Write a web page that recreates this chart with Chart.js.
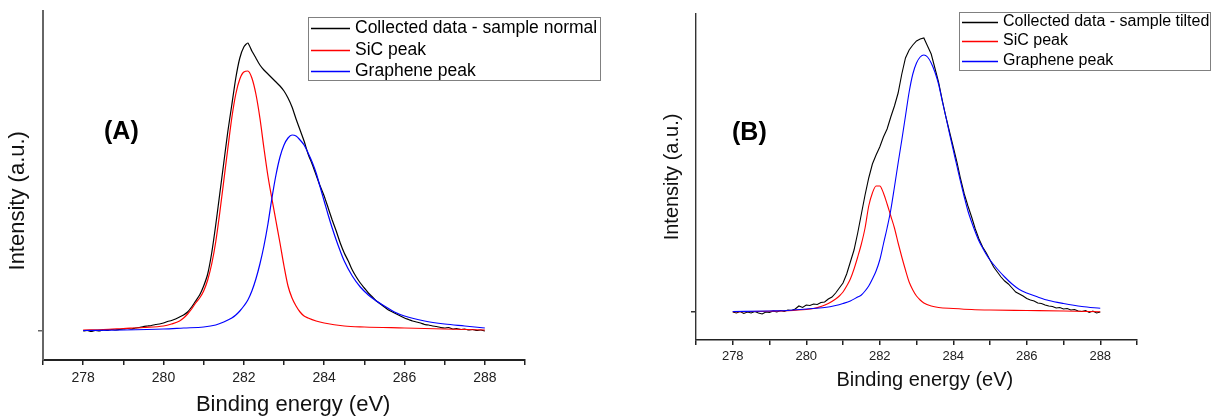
<!DOCTYPE html>
<html><head><meta charset="utf-8">
<script src="https://cdn.jsdelivr.net/npm/chart.js@4.4.1/dist/chart.umd.min.js"></script>
<style>
html,body{margin:0;padding:0;background:#fff;width:1216px;height:418px;overflow:hidden}
#wa{position:absolute;left:0;top:0;width:640px;height:418px}
#wb{position:absolute;left:640px;top:0;width:576px;height:418px}
</style></head><body>
<div id="wa"><canvas id="ca"></canvas></div>
<div id="wb"><canvas id="cb"></canvas></div>
<script>
// ---------- DATA ----------
const energyGrid = [278.0,278.1,278.2,278.3,278.4,278.5,278.6,278.7,278.8,278.9,
 279.0,279.1,279.2,279.3,279.4,279.5,279.6,279.7,279.8,279.9,
 280.0,280.1,280.2,280.3,280.4,280.5,280.6,280.7,280.8,280.9,
 281.0,281.1,281.2,281.3,281.4,281.5,281.6,281.7,281.8,281.9,
 282.0,282.1,282.2,282.3,282.4,282.5,282.6,282.7,282.8,282.9,
 283.0,283.1,283.2,283.3,283.4,283.5,283.6,283.7,283.8,283.9,
 284.0,284.1,284.2,284.3,284.4,284.5,284.6,284.7,284.8,284.9,
 285.0,285.1,285.2,285.3,285.4,285.5,285.6,285.7,285.8,285.9,
 286.0,286.1,286.2,286.3,286.4,286.5,286.6,286.7,286.8,286.9,
 287.0,287.1,287.2,287.3,287.4,287.5,287.6,287.7,287.8,287.9,
 288.0];

// (A) sample normal
const collectedA = [0,0.5,-0.5,0.5,0,1,0.5,1.5,1,1.5,
 2,2.5,2,3,3.5,4.5,5,5.5,6.5,7,
 8,9.5,10.5,12,14,16,19,24,30,36,
 45,57,78,106,137,168,199,226,253,273,
 284,288,280,273,266,261,257,253,249,245,
 240,233,224,212,201,190,177,167,156,145,
 135,123,111,100,88,78,70,61,54,48,
 43,38,34,30,27,24,21,19,17,15,
 13,11.5,10,9,8,6.5,6,5,4.5,3.5,
 3,3.5,2,2.5,1.5,2,1,1.5,0.5,1,
 0];
const sicEnergyA = [278,278.5,279,279.5,280,280.2,280.4,280.5,280.6,280.7,280.8,280.9,
 281,281.1,281.2,281.3,281.4,281.5,281.6,281.7,281.8,281.9,
 282,282.1,282.2,282.3,282.4,282.5,282.6,282.7,282.8,282.9,
 283,283.1,283.2,283.3,283.4,283.5,283.6,283.8,284,284.5,285,286,287,288];
const sicA = [1,1.5,2.5,3.5,5,7,10,13,17,22,28,33,
 40,51,67,89,118,150,182,213,237,252,
 259,260,253,237,213,183,155,132,110,88,
 65,45,33,25,19,15,13,10,8,5,4,3,2,1];
const grEnergyA = [278,279,280,280.5,281,281.3,281.5,281.7,281.8,281.9,
 282,282.1,282.2,282.3,282.4,282.5,282.6,282.7,282.8,282.9,
 283,283.1,283.2,283.3,283.4,283.5,283.6,283.7,283.8,283.9,
 284,284.1,284.2,284.3,284.4,284.5,284.7,284.9,285.1,285.3,285.5,285.75,286,286.5,287,287.5,288];
const grA = [0.5,1,2,3,4,6,9,13,16,20,
 25,31,40,52,67,85,107,133,156,174,
 186,193,196,195,191,186,178,169,158,144,
 130,116,103,91,80,70,55,44,36,30,25,19,15,10,7,5,3];

// (B) sample tilted
const collectedB = [0,-1,0.5,-1.5,0,-1,0.5,-1,-2,0,
 -0.5,1,0,1.5,0.5,2,1.5,3,6,4.5,
 7,6.5,8,7.5,9.5,10,13,15,19,24,
 29,38,50,62,79,98,117,134,148,157,
 165,175,183,195,206,219,238,254,262,267,
 271,273,274,266,258,244,230,212,195,180,
 165,150,133,118,106,95,83,73,65,59,
 52,45,40,35,31,28,24,20,18,16,
 13.5,12,11,9,8.5,7,6,5.5,4,4.5,
 3,3.5,2,2.5,1,0.5,1.5,-0.5,1,-1,
 0];
const sicEnergyB = [278,278.5,279,279.5,280,280.2,280.4,280.6,280.8,280.9,
 281,281.1,281.2,281.3,281.4,281.5,281.6,281.7,281.8,281.9,
 282,282.1,282.2,282.3,282.4,282.5,282.6,282.7,282.8,282.9,
 283,283.1,283.2,283.4,283.6,284,284.5,285,286,287,288];
const sicB = [0.3,0.5,0.8,1.3,2.5,3.5,5.5,8.5,13,16,
 20,26,33,43,55,68,84,106,119,126,
 126,119,108,96,84,69,55,42,30,22,
 16,12,9,6,4.5,3.5,2.5,2,1.5,1,0.3];
const grEnergyB = [278,279,279.5,280,280.5,280.8,281,281.2,281.4,281.5,
 281.6,281.7,281.8,281.9,
 282,282.1,282.2,282.3,282.4,282.5,282.6,282.7,282.8,282.9,
 283,283.1,283.2,283.3,283.4,283.5,283.6,283.7,283.8,283.9,
 284,284.1,284.2,284.3,284.4,284.5,284.6,284.7,284.8,284.9,
 285,285.2,285.4,285.6,285.8,286,286.3,286.6,287,287.5,288];
const grB = [0.5,1,1.5,3,4.5,6.5,8.5,11,15,17,
 21,26,33,41,
 52,68,84,102,125,149,172,196,220,238,
 249,255,257,255,249,240,228,211,195,178,
 162,146,130,115,101,90,80,71,64,57.5,
 52,43,35,28,22.5,19,15,11.5,8.5,5.5,3.7];

const labelsA = ['Collected data - sample normal','SiC peak','Graphene peak'];
const labelsB = ['Collected data - sample tilted','SiC peak','Graphene peak'];
const xTitle = 'Binding energy (eV)';
const yTitle = 'Intensity (a.u.)';

// ---------- HELPERS ----------
const FONT = '"Liberation Sans", Arial, Helvetica, sans-serif';
const pts = (xs, ys) => xs.map((x, i) => ({x: x, y: ys[i]}));

const boxLegend = {
  id: 'boxLegend',
  afterDraw(chart, args, o) {
    const ctx = chart.ctx;
    ctx.save();
    ctx.fillStyle = '#fff';
    ctx.fillRect(o.x, o.y, o.w, o.h);
    ctx.strokeStyle = o.border;
    ctx.lineWidth = 1;
    ctx.strokeRect(o.x + 0.5, o.y + 0.5, o.w, o.h);
    ctx.font = o.font;
    ctx.textBaseline = 'middle';
    ctx.textAlign = 'left';
    chart.data.datasets.forEach((ds, i) => {
      const y = o.rows[i];
      ctx.strokeStyle = ds.borderColor;
      ctx.lineWidth = o.lw;
      ctx.beginPath();
      ctx.moveTo(o.lx1, y + 0.5);
      ctx.lineTo(o.lx2, y + 0.5);
      ctx.stroke();
      ctx.fillStyle = '#000';
      ctx.fillText(ds.label, o.tx, y);
    });
    // panel tag
    ctx.font = o.tagFont;
    ctx.textBaseline = 'alphabetic';
    ctx.fillText(o.tag, o.tagX, o.tagY);
    ctx.restore();
  }
};

function makeChart(id, d) {
  return new Chart(document.getElementById(id), {
    type: 'line',
    data: {
      datasets: [
        {label: d.labels[0], data: pts(energyGrid, d.collected), borderColor: '#000000', borderWidth: d.lw, pointRadius: 0, tension: d.blackTension, order: 3},
        {label: d.labels[1], data: pts(d.sicE, d.sic), borderColor: '#ff0000', borderWidth: d.lw, pointRadius: 0, cubicInterpolationMode: 'monotone', order: 2},
        {label: d.labels[2], data: pts(d.grE, d.gr), borderColor: '#0000ff', borderWidth: d.lw, pointRadius: 0, cubicInterpolationMode: 'monotone', order: 1}
      ]
    },
    options: {
      responsive: true,
      maintainAspectRatio: false,
      animation: false,
      devicePixelRatio: 1,
      parsing: true,
      layout: {padding: d.pad},
      plugins: {
        legend: {display: false},
        tooltip: {enabled: false},
        boxLegend: d.legend
      },
      scales: {
        x: {
          type: 'linear', min: 277, max: 289,
          afterFit: s => { s.height = d.xH; },
          border: {display: true, color: d.xAxisColor, width: d.xAxisW},
          grid: {display: true, drawOnChartArea: false, drawTicks: true, tickLength: 5, color: d.xAxisColor, lineWidth: 1.5},
          ticks: {stepSize: 1, autoSkip: false, maxRotation: 0, padding: d.tickPad, color: '#222',
            font: {family: FONT, size: d.tickSize},
            callback: v => (Math.round(v) % 2 === 0 ? String(Math.round(v)) : '')},
          title: {display: true, text: d.xTitle, color: '#111', font: {family: FONT, size: d.xTitleSize},
            padding: {top: 0, bottom: d.xTitlePad}}
        },
        y: {
          type: 'linear', min: d.yMin, max: d.yMax,
          afterFit: s => { s.width = d.yW; },
          afterBuildTicks: s => { s.ticks = [{value: 0}]; },
          border: {display: true, color: d.yAxisColor, width: d.yAxisW},
          grid: {display: true, drawOnChartArea: false, drawTicks: true, tickLength: 5, color: d.yAxisColor, lineWidth: 1.5},
          ticks: {display: false},
          title: {display: true, text: d.yTitle, color: '#111', font: {family: FONT, size: d.yTitleSize},
            padding: {top: d.yTitlePad, bottom: 0}}
        }
      }
    },
    plugins: [boxLegend]
  });
}

makeChart('ca', {
  labels: labelsA, collected: collectedA, sicE: sicEnergyA, sic: sicA, grE: grEnergyA, gr: grA,
  lw: 1.2, blackTension: 0.2,
  pad: {left: 0, top: 11, right: 115, bottom: 0},
  xH: 58, yW: 43, yMin: -29, yMax: 320,
  xAxisColor: '#222', xAxisW: 2, yAxisColor: '#666', yAxisW: 2,
  tickPad: 5, tickSize: 14, xTitle: '   ' + xTitle, xTitleSize: 22, xTitlePad: 0,
  yTitle: yTitle + '     ', yTitleSize: 22, yTitlePad: 5,
  legend: {x: 308, y: 17, w: 292, h: 63, border: '#808080', rows: [28, 50, 71], lx1: 311, lx2: 350, tx: 355,
    lw: 1.3, font: '17.5px ' + FONT, tag: '(A)', tagFont: 'bold 25px ' + FONT, tagX: 104, tagY: 139}
});

makeChart('cb', {
  labels: labelsB, collected: collectedB, sicE: sicEnergyB, sic: sicB, grE: grEnergyB, gr: grB,
  lw: 1.1, blackTension: 0,
  pad: {left: 0, top: 14, right: 79, bottom: 0},
  xH: 78, yW: 56, yMin: -28, yMax: 298,
  xAxisColor: '#222', xAxisW: 1.4, yAxisColor: '#333', yAxisW: 1.4,
  tickPad: 4, tickSize: 13, xTitle: '   ' + xTitle, xTitleSize: 20, xTitlePad: 26,
  yTitle: yTitle, yTitleSize: 20, yTitlePad: 20,
  legend: {x: 319, y: 12, w: 251, h: 58, border: '#808080', rows: [22, 41, 61], lx1: 322, lx2: 358, tx: 363,
    lw: 1.3, font: '16px ' + FONT, tag: '(B)', tagFont: 'bold 25px ' + FONT, tagX: 92, tagY: 140}
});
</script>
</body></html>
